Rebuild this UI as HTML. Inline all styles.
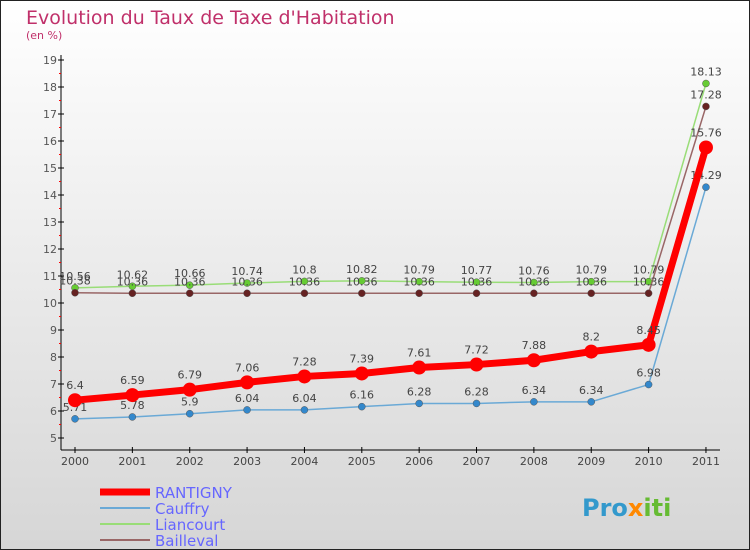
<!DOCTYPE html>
<html><head><meta charset="utf-8"><style>
body{margin:0}
svg{display:block;font-family:"DejaVu Sans","Liberation Sans",sans-serif}
</style></head><body>
<svg id="c" width="750" height="550">
<defs><linearGradient id="bg" x1="0" y1="0" x2="0" y2="1"><stop offset="0" stop-color="#ffffff"/><stop offset="1" stop-color="#d6d6d6"/></linearGradient></defs>
<rect x="0.5" y="0.5" width="749" height="549" fill="url(#bg)" stroke="#222"/>
<text x="26" y="24" font-size="19" fill="#c0306a">Evolution du Taux de Taxe d'Habitation</text>
<text x="26" y="39" font-size="11" fill="#c0306a">(en %)</text>
<g id="axes"></g><g id="series"></g>
<g>
<line x1="100" y1="492" x2="150" y2="492" stroke="#f00" stroke-width="7"/>
<text x="155" y="498" font-size="15" fill="#6666ff">RANTIGNY</text>
<line x1="100" y1="508" x2="150" y2="508" stroke="#6aa9d6" stroke-width="2"/>
<text x="155" y="514" font-size="15" fill="#6666ff">Cauffry</text>
<line x1="100" y1="524" x2="150" y2="524" stroke="#99dd77" stroke-width="2"/>
<text x="155" y="530" font-size="15" fill="#6666ff">Liancourt</text>
<line x1="100" y1="540" x2="150" y2="540" stroke="#996666" stroke-width="2"/>
<text x="155" y="546" font-size="15" fill="#6666ff">Bailleval</text>
</g>
<text x="582" y="516" font-size="24" font-weight="bold" fill="#3399cc">Pro<tspan fill="#ff8800">x</tspan><tspan fill="#66bb33">iti</tspan></text>
</svg>
<script>
const years=[2000,2001,2002,2003,2004,2005,2006,2007,2008,2009,2010,2011];
const rantigny=[6.4,6.59,6.79,7.06,7.28,7.39,7.61,7.72,7.88,8.2,8.45,15.76];
const cauffry=[5.71,5.78,5.9,6.04,6.04,6.16,6.28,6.28,6.34,6.34,6.98,14.29];
const liancourt=[10.56,10.62,10.66,10.74,10.8,10.82,10.79,10.77,10.76,10.79,10.79,18.13];
const bailleval=[10.38,10.36,10.36,10.36,10.36,10.36,10.36,10.36,10.36,10.36,10.36,17.28];
const yTicks=[5,6,7,8,9,10,11,12,13,14,15,16,17,18,19];
const NS="http://www.w3.org/2000/svg";
const xs=i=>75+i*57.36, ys=v=>438-(v-5)*27;
function mk(t,a,p){const e=document.createElementNS(NS,t);for(const k in a)e.setAttribute(k,a[k]);p.appendChild(e);return e;}
const ax=document.getElementById('axes'),sg=document.getElementById('series');
mk('line',{x1:61,y1:55,x2:61,y2:450,stroke:'#000'},ax);
mk('line',{x1:61,y1:450,x2:720,y2:450,stroke:'#000'},ax);
yTicks.forEach(v=>{const y=ys(v);
 mk('line',{x1:58,y1:y,x2:64,y2:y,stroke:'#000'},ax);
 if(v<19)mk('line',{x1:59,y1:y-13.5,x2:61,y2:y-13.5,stroke:'#f00'},ax);
 const t=mk('text',{x:57,y:y+4,'font-size':11,fill:'#555','text-anchor':'end'},ax);t.textContent=v;
 });
years.forEach((yr,i)=>{const x=xs(i);
 mk('line',{x1:x,y1:447,x2:x,y2:453,stroke:'#000'},ax);
 const t=mk('text',{x:x,y:465,'font-size':11,fill:'#444','text-anchor':'middle'},ax);t.textContent=yr;
 });
function series(name,data,col,dot,w,r,dy){
 const g=mk('g',{},sg);
 mk('polyline',{points:data.map((v,i)=>xs(i)+','+ys(v)).join(' '),fill:'none',stroke:col,'stroke-width':w,'stroke-linejoin':'round'},g);
 data.forEach((v,i)=>{const c=mk('circle',{cx:xs(i),cy:ys(v),r:r,fill:dot,stroke:'#555','stroke-width':r>4?0:0.5},g);
  
  const t=mk('text',{x:xs(i),y:ys(v)+dy,'font-size':11,fill:'#444','text-anchor':'middle'},g);t.textContent=v;
  });
}
series('cauffry',cauffry,'#6aa9d6','#3388cc',1.5,3.5,-8);
series('liancourt',liancourt,'#99dd77','#66cc33',1.5,3.5,-8);
series('bailleval',bailleval,'#996666','#662222',1.5,3.5,-8);
series('rantigny',rantigny,'#f00','#f00',7,7,-11);
</script>
</body></html>
